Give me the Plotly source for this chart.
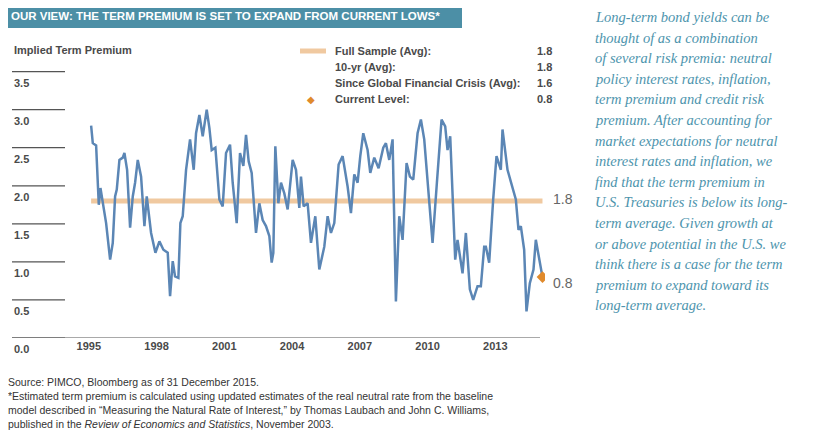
import plotly.graph_objects as go

zx = [275,280,290,295,298,303,310,320,332,340,347,352,360,370,375,383,392,400,407,415,425,435,442,455,468,480,492,505,512,520,527,537,543,550,560,572,583,590,600,610,622,630,637,648,660,670,680,692,700,712,722,732,740,748,757,770,780,790,800,810,817,822,828,837,845,855,865,875,880,890,900,
      905,913,925,935,948,960,975,985,995,1005,1018,1030,1045,1055,1065,1075,1083,1092,1105,1113,1125,1138,1152,1160,1170,1180,1190,1200,1210,1222,1232,1242,1255,1265,1275,1288,1300,1313,1327,1338,1345,1353,1360,1368,1375,1390,1400,1412,1422,1435,1445,1455,1460,1470,1482,1492,1505,1510,1525,1535,1550,1558,1565,1575,1582,1592,1603,1610,1620,1630]
vals = [2.79,2.56,2.53,1.99,1.75,1.97,1.77,1.51,1.03,1.25,1.86,1.95,2.34,2.37,2.43,2.21,1.45,1.86,2.04,2.34,2.12,1.47,1.86,1.38,1.12,1.27,1.16,1.12,0.55,1.01,0.81,0.79,1.51,1.60,2.21,2.61,2.21,2.69,2.93,2.65,3.00,2.76,2.47,2.50,1.82,1.73,2.43,2.54,2.04,1.51,2.43,2.26,2.67,2.32,2.17,1.38,1.77,1.55,1.47,1.34,0.99,1.12,2.52,1.77,2.04,1.90,1.69,2.12,2.34,2.21,1.71,
        2.12,1.73,1.77,1.25,1.60,0.90,1.20,1.60,1.38,1.51,2.28,2.39,1.99,1.64,2.15,2.04,2.39,2.69,2.47,2.17,2.37,2.23,2.50,2.56,2.34,2.61,0.48,1.60,1.29,2.30,2.12,2.08,2.69,2.87,2.61,1.95,1.25,2.04,2.87,2.78,2.47,2.65,1.77,1.03,1.29,0.85,1.38,0.64,0.50,0.68,0.68,1.20,1.20,0.99,1.82,2.39,2.21,2.74,2.21,2.04,1.82,1.42,1.47,1.16,0.35,0.72,0.90,1.29,1.03,0.80,0.80]
years = [1995 + (a - 268) / 67.8 for a in zx]
premium = vals

avg_full = 1.8
current = 0.8
x_ticks = [1995, 1998, 2001, 2004, 2007, 2010, 2013]
y_ticks = [0.0, 0.5, 1.0, 1.5, 2.0, 2.5, 3.0, 3.5]
legend_labels = ["Full Sample (Avg):", "10-yr (Avg):", "Since Global Financial Crisis (Avg):", "Current Level:"]
legend_values = ["1.8", "1.8", "1.6", "0.8"]

GRAY = "#4a4a4a"
OFF = 8  # page body margin
W, H = 810, 428

def fx(p):
    return (p - OFF) / W

def fy(p):
    return 1 - (p - OFF) / H

fig = go.Figure()
fig.add_trace(go.Scatter(x=[years[0], years[-1]], y=[avg_full, avg_full], mode="lines",
                         line=dict(color="#f0c9a0", width=5), hoverinfo="skip"))
fig.add_trace(go.Scatter(x=years, y=premium, mode="lines",
                         line=dict(color="#5b86b5", width=2.5), hoverinfo="skip"))
fig.add_trace(go.Scatter(x=[years[-1]], y=[current], mode="markers",
                         marker=dict(symbol="diamond", color="#e08a2c", size=9), hoverinfo="skip"))

x0, x1 = 12, 545
ytop, ybot = 64, 338
fig.update_layout(
    width=W, height=H, margin=dict(l=0, r=0, t=0, b=0),
    paper_bgcolor="white", plot_bgcolor="white", showlegend=False,
    font=dict(family="Liberation Sans", color=GRAY),
    xaxis=dict(domain=[fx(x0), fx(x1)], range=[1991.6, 2015.2], tickvals=x_ticks,
               ticktext=[f"<b>{t}</b>" for t in x_ticks], showgrid=False, zeroline=False,
               showline=False, ticks="", tickfont=dict(size=11, color=GRAY)),
    yaxis=dict(domain=[fy(ybot), fy(ytop)], range=[0, 3.6], showticklabels=False,
               showgrid=False, zeroline=False),
)
for t in y_ticks:
    fig.add_shape(type="line", xref="paper", yref="y", x0=fx(x0), x1=fx(65), y0=t, y1=t,
                  line=dict(color="#555", width=1.2))
    fig.add_annotation(xref="paper", yref="y", x=fx(x0), y=t, text=f"<b>{t:.1f}</b>", showarrow=False,
                       xanchor="left", yanchor="top", yshift=-3, font=dict(size=11, color=GRAY))
fig.add_shape(type="line", xref="paper", yref="y", x0=fx(x0), x1=fx(540), y0=0, y1=0,
              line=dict(color="#555", width=1.2))

def px(x, y, text, size=11, anchor="left", color=GRAY, **kw):
    fig.add_annotation(xref="paper", yref="paper", x=fx(x), y=fy(y), text=text, showarrow=False,
                       xanchor=anchor, yanchor="middle", font=dict(size=size, color=color, **kw))

fig.add_shape(type="rect", xref="paper", yref="paper", x0=0, x1=fx(462), y0=fy(28), y1=1,
              fillcolor="#4c8fa6", line=dict(width=0))
px(9, 16, "<b>OUR VIEW: THE TERM PREMIUM IS SET TO EXPAND FROM CURRENT LOWS*</b>", size=11.5, color="white")
px(12, 50, "<b>Implied Term Premium</b>", size=11)

ly = [51, 67, 83, 99]
fig.add_shape(type="line", xref="paper", yref="paper", x0=fx(300), x1=fx(326), y0=fy(51), y1=fy(51),
              line=dict(color="#f0c9a0", width=5))
px(311, 99, "◆", size=10, anchor="center", color="#e08a2c")
for yy, lab, v in zip(ly, legend_labels, legend_values):
    px(333, yy, f"<b>{lab}</b>", size=11)
    px(554, yy, f"<b>{v}</b>", size=11, anchor="right")
px(551, 199, "1.8", size=14, color="#666")
px(551, 283, "0.8", size=14, color="#666")

right = ["Long-term bond yields can be", "thought of as a combination", "of several risk premia: neutral",
         "policy interest rates, inflation,", "term premium and credit risk", "premium. After accounting for",
         "market expectations for neutral", "interest rates and inflation, we", "find that the term premium in",
         "U.S. Treasuries is below its long-", "term average. Given growth at", "or above potential in the U.S. we",
         "think there is a case for the term", "premium to expand toward its", "long-term average."]
for i, line in enumerate(right):
    px(593, 17 + i * 20.6, f"<i>{line}</i>", size=14.5, color="#4d94ad", family="Liberation Serif")

foot = ["Source: PIMCO, Bloomberg as of 31 December 2015.",
        "*Estimated term premium is calculated using updated estimates of the real neutral rate from the baseline",
        "model described in \u201cMeasuring the Natural Rate of Interest,\u201d by Thomas Laubach and John C. Williams,",
        "published in the <i>Review of Economics and Statistics</i>, November 2003."]
for i, line in enumerate(foot):
    px(6, 382 + i * 14, line, size=10.5, color="#333")

fig.write_html("out.html")
